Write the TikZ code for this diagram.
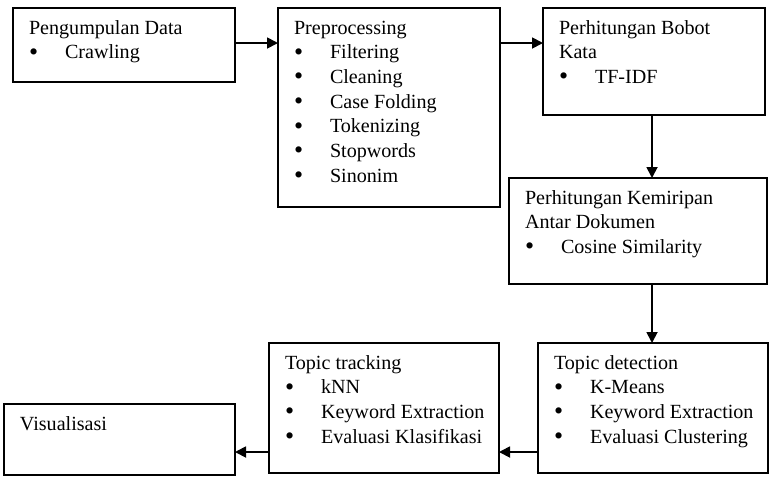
\documentclass[tikz,border=0pt]{standalone}
\usepackage{fontspec}
\setmainfont{Liberation Serif}
\usetikzlibrary{arrows.meta,calc}
\newcommand{\bxt}[3]{\parbox[t][#2][t]{#1}{\leftskip=16pt\rightskip=0pt plus 1fil\parindent=0pt\hyphenpenalty=10000\fontsize{20.1}{24.7}\selectfont\rule{0pt}{26pt}#3}}
\newcommand{\itm}[1]{\par\makebox[36pt][l]{\raisebox{-1.3pt}{\fontsize{26}{26}\selectfont\textbullet}}#1}
\tikzset{
  stagebox/.style={draw=black, line width=1.8pt, rectangle, inner sep=0pt, outer sep=0pt, anchor=north west},
  arr/.style={line width=1.8pt, -{Triangle[length=11pt,width=11pt]}}
}
\begin{document}
\begin{tikzpicture}[x=1pt,y=-1pt]
\useasboundingbox (0,0) rectangle (773,488);
\node[stagebox] (b1) at (13,8) {\bxt{222pt}{74pt}{Pengumpulan Data\itm{Crawling}}};
\node[stagebox] (b2) at (278,8) {\bxt{222pt}{199pt}{Preprocessing\itm{Filtering}\itm{Cleaning}\itm{Case Folding}\itm{Tokenizing}\itm{Stopwords}\itm{Sinonim}}};
\node[stagebox] (b3) at (543,8) {\bxt{222pt}{107pt}{Perhitungan Bobot\par Kata\itm{TF-IDF}}};
\node[stagebox] (b4) at (509,178) {\bxt{258pt}{106pt}{Perhitungan Kemiripan\par Antar Dokumen\itm{Cosine Similarity}}};
\node[stagebox] (b5) at (538,343) {\bxt{230pt}{130pt}{Topic detection\itm{K-Means}\itm{Keyword Extraction}\itm{Evaluasi Clustering}}};
\node[stagebox] (b6) at (269,343) {\bxt{230pt}{130pt}{Topic tracking\itm{kNN}\itm{Keyword Extraction}\itm{Evaluasi Klasifikasi}}};
\node[stagebox] (b7) at (4,404) {\bxt{231pt}{71pt}{Visualisasi}};
\draw[arr] ($(b1.north east)+(0,35)$) -- ($(b2.north west)+(0,35)$);
\draw[arr] ($(b2.north east)+(0,35)$) -- ($(b3.north west)+(0,35)$);
\coordinate (c3) at ($(b3.south west)+(109,0)$);
\draw[arr] (c3) -- (c3 |- b4.north);
\coordinate (c4) at ($(b4.south west)+(143,0)$);
\draw[arr] (c4) -- (c4 |- b5.north);
\coordinate (c5) at ($(b5.north west)+(0,109)$);
\draw[arr] (c5) -- (c5 -| b6.east);
\coordinate (c6) at ($(b6.north west)+(0,109)$);
\draw[arr] (c6) -- (c6 -| b7.east);
\end{tikzpicture}
\end{document}
